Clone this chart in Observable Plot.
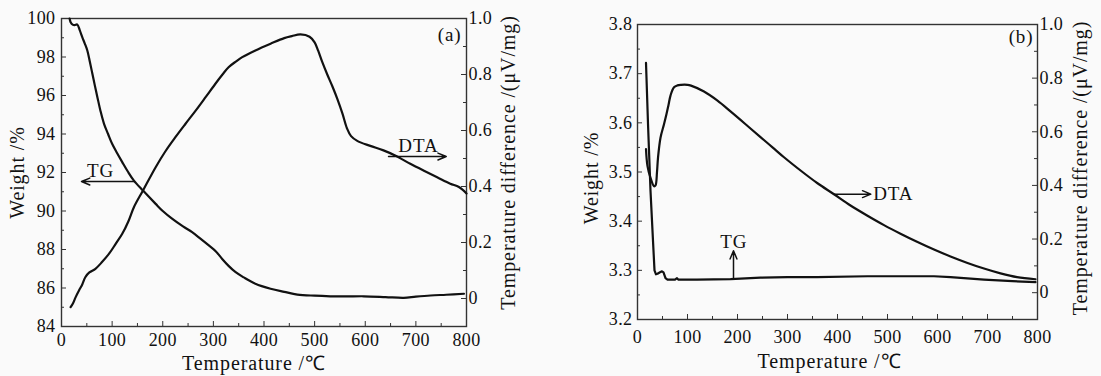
<!DOCTYPE html>
<html><head><meta charset="utf-8">
<script src="https://cdn.jsdelivr.net/npm/d3@7"></script>
<script src="https://cdn.jsdelivr.net/npm/@observablehq/plot@0.6"></script>
<style>
html,body{margin:0;padding:0;background:#fafafa;}
#row{display:flex;width:1101px;height:376px;font-family:"Liberation Serif","Times New Roman",serif;}
#row svg{display:block;font-family:"Liberation Serif","Times New Roman",serif !important;}
#row svg text{font-family:"Liberation Serif","Times New Roman",serif !important;}
#row svg g[aria-label="text"] text{letter-spacing:0.9px;}
#row svg g[aria-label$="tick label"] text{letter-spacing:0.4px;}
</style></head><body><div id="row"></div>
<script>
// ---------- shared tick values ----------
const xMajor = [0,100,200,300,400,500,600,700,800];
const xMinor = [50,150,250,350,450,550,650,750];
const rightMajor = [0,0.2,0.4,0.6,0.8,1.0];
const rightMinor = [0.1,0.3,0.5,0.7,0.9];
const rightDomain = [-0.1, 1.0];

// ---------- panel (a) ----------
const yMajorA = [84,86,88,90,92,94,96,98,100];
const yMinorA = [85,87,89,91,93,95,97,99];
const tgTempA = [16,18,22,26,31,36,41,46,51,56,61,66,71,77,84,92,100,110,120,131,143,161,186,200,219,240,258,275,291,305,317,330,344,360,383,413,440,466,500,531,560,597,640,676,700,729,760,795];
const tgWeightA = [100.0,99.81,99.68,99.66,99.69,99.4,99.03,98.7,98.34,97.75,97.13,96.5,95.9,95.2,94.53,94.0,93.49,93.0,92.54,92.05,91.58,91.06,90.37,90.0,89.59,89.2,88.9,88.55,88.21,87.9,87.52,87.15,86.82,86.55,86.22,85.96,85.8,85.66,85.6,85.57,85.56,85.57,85.53,85.49,85.55,85.61,85.65,85.7];
const dtaTempA = [18,22,28,35,41,47,55,67,80,94,107,120,132,143,161,186,205,225,245,265,285,304,318,330,345,357,383,413,440,455,472,490,500,507,515,525,535,545,555,564,572,585,610,636,660,689,715,742,768,785,800];
const dtaValA = [-0.031,-0.02,0.005,0.03,0.05,0.076,0.093,0.106,0.13,0.16,0.195,0.231,0.275,0.326,0.386,0.469,0.525,0.576,0.624,0.671,0.72,0.767,0.80,0.826,0.847,0.862,0.886,0.91,0.93,0.937,0.943,0.935,0.915,0.885,0.845,0.80,0.758,0.712,0.66,0.607,0.58,0.562,0.545,0.529,0.51,0.481,0.457,0.433,0.41,0.398,0.375];
const labelTextA = ["TG","DTA"];
const labelTempA = [77,705];
const labelWeightA = [92.1,93.4];
const arrowFromTempA = [143,646];
const arrowToTempA = [39.5,760];
const arrowFromWeightA = [91.53,92.83];
const arrowToWeightA = [91.53,92.83];

// ---------- panel (b) ----------
const yMajorB = [3.2,3.3,3.4,3.5,3.6,3.7,3.8];
const yMinorB = [3.25,3.35,3.45,3.55,3.65,3.75];
const tgTempB = [17,19,21,26,31,34,37,40,45,49,52,56,60,75,79,82,119,186,246,300,359,460,526,593,626,693,750,796];
const tgWeightB = [3.722,3.66,3.598,3.462,3.36,3.30,3.292,3.293,3.296,3.298,3.296,3.284,3.281,3.281,3.284,3.281,3.281,3.282,3.285,3.286,3.286,3.288,3.288,3.288,3.286,3.281,3.278,3.276];
const dtaTempB = [17,20,26,33,36,39,41,46,53,58,62,66,73,80,87,100,107,133,160,186,215,246,270,293,330,360,393,426,460,493,526,559,593,626,660,693,726,759,796];
const dtaValB = [0.535,0.472,0.428,0.397,0.40,0.45,0.503,0.578,0.628,0.666,0.70,0.735,0.766,0.773,0.775,0.775,0.772,0.750,0.716,0.676,0.630,0.580,0.542,0.505,0.45,0.408,0.367,0.325,0.287,0.252,0.22,0.19,0.161,0.135,0.111,0.09,0.072,0.058,0.05];
const labelTextB = ["TG","DTA"];
const labelTempB = [192.6,511.6];
const labelWeightB = [3.357,3.455];
const arrowFromTempB = [192,393];
const arrowToTempB = [192,466.6];
const arrowFromWeightB = [3.285,3.455];
const arrowToWeightB = [3.34,3.455];

const FONT = "Liberation Serif";
const fmtR = d => Math.abs(d) < 1e-6 ? "0" : d.toFixed(1);

function makePanel(o) {
  const H = 376;
  const innerW = o.width - o.ml - o.mr;
  const innerH = H - o.mt - o.mb;
  const toY = d3.scaleLinear(rightDomain, o.yDomain);
  const tg = o.tgT.map((t, i) => ({t, v: o.tgV[i]}));
  const dta = o.dtaT.map((t, i) => ({t, v: toY(o.dtaV[i])}));
  const labels = o.labT.map((t, i) => ({t, v: o.labV[i], text: o.labText[i]}));
  const arrows = o.aT1.map((t, i) => ({x1: t, x2: o.aT2[i], y1: o.aV1[i], y2: o.aV2[i]}));
  const ink = "#111";
  const tf = {fontFamily: FONT, fill: ink};
  return Plot.plot({
    width: o.width, height: H,
    marginTop: o.mt, marginBottom: o.mb, marginLeft: o.ml, marginRight: o.mr,
    x: {domain: [0, 800]},
    y: {domain: o.yDomain},
    style: {fontSize: "18px", background: "transparent", color: ink},
    marks: [
      Plot.tickX(xMajor, {x: d => d, insetTop: innerH - 5, stroke: "#333"}),
      Plot.tickX(xMinor, {x: d => d, insetTop: innerH - 3, stroke: "#333"}),
      Plot.tickY(o.yMajor, {y: d => d, insetRight: innerW - 5, stroke: "#333"}),
      Plot.tickY(o.yMinor, {y: d => d, insetRight: innerW - 3, stroke: "#333"}),
      Plot.tickY(rightMajor.map(d => toY(d)), {y: d => d, insetLeft: innerW - 5, stroke: "#333"}),
      Plot.tickY(rightMinor.map(d => toY(d)), {y: d => d, insetLeft: innerW - 3, stroke: "#333"}),
      Plot.frame({stroke: "#333", strokeWidth: 1.4}),
      Plot.axisX({ticks: xMajor, tickSize: 0, tickPadding: o.xPad, label: null, fontSize: 18, ...tf}),
      Plot.axisY({ticks: o.yMajor, tickSize: 0, tickPadding: o.yPad, tickFormat: o.yFmt, label: null, fontSize: 18, ...tf}),
      Plot.axisY({anchor: "right", ticks: rightMajor.map(d => toY(d)), tickSize: 0, tickPadding: 2,
        tickFormat: y => fmtR(toY.invert(y)), label: null, fontSize: 18, ...tf}),
      Plot.line(tg, {x: "t", y: "v", stroke: ink, strokeWidth: 2.2, curve: o.tgCurve}),
      Plot.line(dta, {x: "t", y: "v", stroke: ink, strokeWidth: 2.2, curve: "catmull-rom"}),
      Plot.arrow(arrows, {x1: "x1", y1: "y1", x2: "x2", y2: "y2", stroke: ink, strokeWidth: 1.5, headLength: 9, headAngle: 45}),
      Plot.text(labels, {x: "t", y: "v", text: "text", fontSize: 19, ...tf}),
      Plot.text([o.tag], {text: d => d, frameAnchor: "top-right", textAnchor: "end", lineAnchor: "middle", dx: o.tagDx, dy: o.tagDy, fontSize: 19, ...tf}),
      Plot.text(["Temperature /\u2103"], {text: d => d, frameAnchor: "bottom", textAnchor: "middle", lineAnchor: "middle", dx: o.xtDx, dy: o.xtDy, fontSize: 20, ...tf}),
      Plot.text(["Weight /%"], {text: d => d, frameAnchor: "left", textAnchor: "middle", lineAnchor: "middle", rotate: -90, dx: o.ytDx, dy: o.ytDy, fontSize: 20, ...tf}),
      Plot.text(["Temperature difference /(\u03bcV/mg)"], {text: d => d, frameAnchor: "right", textAnchor: "middle", lineAnchor: "middle", rotate: -90, dx: o.rtDx, dy: o.rtDy, fontSize: 20, ...tf})
    ]
  });
}

const row = document.getElementById("row");
row.append(makePanel({
  width: 550, ml: 61, mr: 84, mt: 18, mb: 50,
  yDomain: [84, 100], yMajor: yMajorA, yMinor: yMinorA, yFmt: d => String(d),
  tgT: tgTempA, tgV: tgWeightA, tgCurve: "catmull-rom",
  dtaT: dtaTempA, dtaV: dtaValA,
  labT: labelTempA, labV: labelWeightA, labText: labelTextA,
  aT1: arrowFromTempA, aT2: arrowToTempA, aV1: arrowFromWeightA, aV2: arrowToWeightA,
  tag: "(a)", tagDx: -5, tagDy: 16,
  xPad: 7, yPad: 6,
  xtDx: -10, xtDy: 37, ytDx: -44, ytDy: 0, rtDx: 42, rtDy: -10
}));
row.append(makePanel({
  width: 551, ml: 87, mr: 64, mt: 24, mb: 57,
  yDomain: [3.2, 3.8], yMajor: yMajorB, yMinor: yMinorB, yFmt: d => d.toFixed(1),
  tgT: tgTempB, tgV: tgWeightB, tgCurve: "linear",
  dtaT: dtaTempB, dtaV: dtaValB,
  labT: labelTempB, labV: labelWeightB, labText: labelTextB,
  aT1: arrowFromTempB, aT2: arrowToTempB, aV1: arrowFromWeightB, aV2: arrowToWeightB,
  tag: "(b)", tagDx: -4, tagDy: 12,
  xPad: 11, yPad: 5,
  xtDx: -8, xtDy: 42, ytDx: -46, ytDy: 6, rtDx: 43, rtDy: -4
}));
</script>
</body></html>
